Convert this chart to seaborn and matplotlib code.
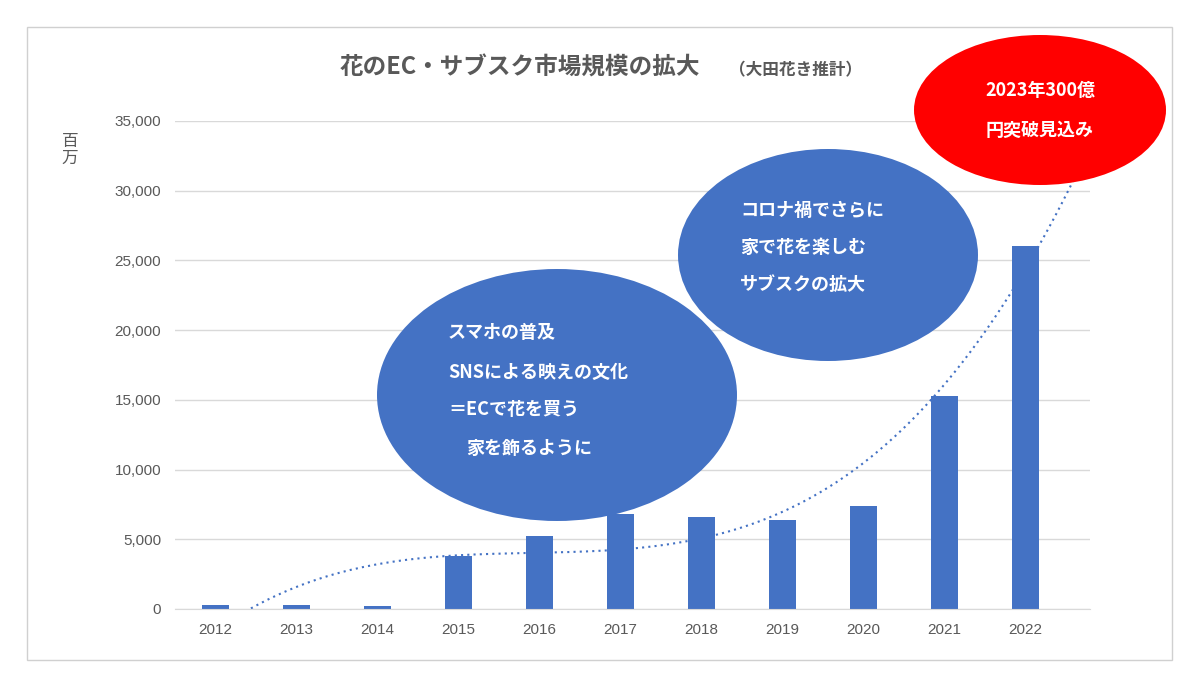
import matplotlib
matplotlib.use("Agg")
import matplotlib.pyplot as plt
from matplotlib.patches import Ellipse, Rectangle
import seaborn as sns
import numpy as np
import pandas as pd

years = ["2012","2013","2014","2015","2016","2017","2018","2019","2020","2021","2022"]
values = [300, 300, 250, 3800, 5200, 6800, 6600, 6400, 7400, 15300, 26000]

plt.rcParams["font.family"] = "Noto Sans CJK JP"
fig = plt.figure(figsize=(12, 6.88), dpi=100)
fig.add_artist(Rectangle((27/1200, 1-660/688), 1145/1200, 633/688, transform=fig.transFigure,
                         fill=False, edgecolor="#d0d0d0", lw=1))
ax = fig.add_axes([175/1200, 1-609/688, 915/1200, 488/688])
df = pd.DataFrame({"year": years, "value": values})
sns.barplot(data=df, x="year", y="value", color="#4472C4", width=0.33, ax=ax, saturation=1)

# polynomial trendline (like Excel)
xi = np.arange(len(values))
coef = np.polyfit(xi, values, 3)
xs = np.linspace(0.3, 10.6, 300)
ys = np.polyval(coef, xs)
m = ys >= 0
ax.plot(xs[m], ys[m], ls=(0, (1, 2)), color="#4472C4", lw=1.5)

ax.set_xlim(-0.5, 10.8)
ax.set_ylim(0, 35000)
ax.set_yticks(range(0, 35001, 5000))
ax.set_yticklabels([f"{v:,}" for v in range(0, 35001, 5000)])
ax.yaxis.grid(True, color="#d9d9d9", lw=1)
ax.set_axisbelow(True)
for s in ["top", "right", "left"]:
    ax.spines[s].set_visible(False)
ax.spines["bottom"].set_color("#d9d9d9")
ax.tick_params(length=0, colors="#595959", labelsize=11, pad=10)
ax.set_xlabel("")
ax.set_ylabel("")
for lbl in ax.get_xticklabels() + ax.get_yticklabels():
    lbl.set_fontfamily("Liberation Sans")

fig.text(70/1200, 1-150/688, "百\n万", color="#595959", fontsize=12, ha="center", va="center", linespacing=1.0)
fig.text(520/1200, 1-68/688, "花のEC・サブスク市場規模の拡大", color="#595959", fontsize=17,
         fontweight="bold", ha="center", va="center")
fig.text(795/1200, 1-70/688, "（大田花き推計）", color="#595959", fontsize=12,
         fontweight="bold", ha="center", va="center")

def ell(cx, cy, w, h, color, lines, fs, ha="left", tx=None):
    fig.add_artist(Ellipse((cx/1200, 1-cy/688), w/1200, h/688, transform=fig.transFigure,
                           facecolor=color, edgecolor="none"))
    for (x, y, t) in lines:
        fig.text(x/1200, 1-y/688, t, color="white", fontsize=fs, fontweight="bold",
                 ha=ha, va="center")

ell(557, 395, 360, 252, "#4472C4",
    [(448, 332, "スマホの普及"), (448, 372, "SNSによる映えの文化"),
     (448, 410, "＝ECで花を買う"), (466, 448, "家を飾るように")], 13)
ell(828, 255, 300, 212, "#4472C4",
    [(740, 210, "コロナ禍でさらに"), (740, 247, "家で花を楽しむ"),
     (740, 285, "サブスクの拡大")], 13)
ell(1040, 110, 252, 150, "#FF0000",
    [(1040, 90, "2023年300億"), (1040, 130, "円突破見込み")], 13, ha="center")

fig.savefig("out.png", dpi=100)
